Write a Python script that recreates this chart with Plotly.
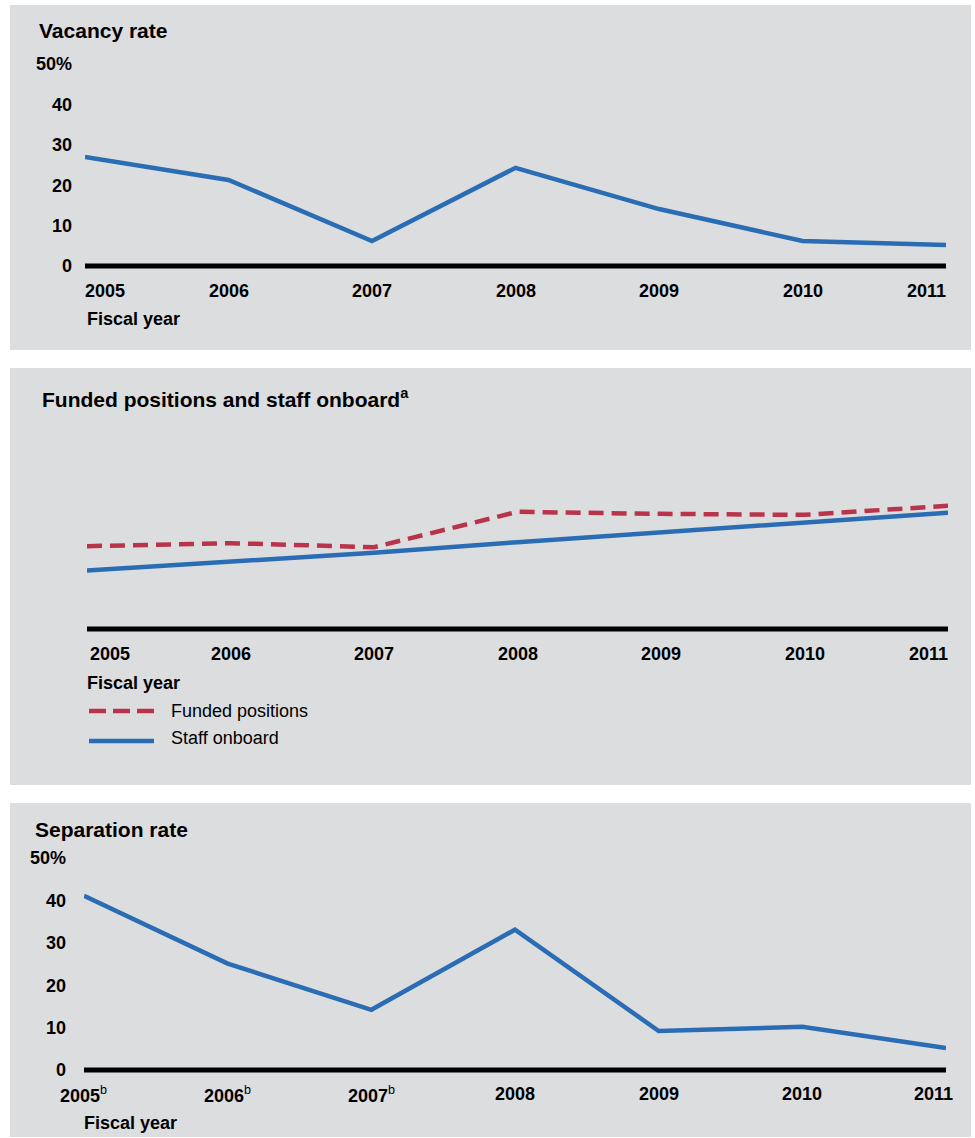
import plotly.graph_objects as go

# ---------------- data ----------------
years = [2005, 2006, 2007, 2008, 2009, 2010, 2011]
year_labels = ["2005", "2006", "2007", "2008", "2009", "2010", "2011"]
separation_year_labels = ["2005<sup><span style='font-weight:normal'>b</span></sup>",
                          "2006<sup><span style='font-weight:normal'>b</span></sup>",
                          "2007<sup><span style='font-weight:normal'>b</span></sup>",
                          "2008", "2009", "2010", "2011"]

vacancy_rate = [27.0, 21.3, 6.2, 24.3, 14.1, 6.2, 5.2]
funded_positions = [82, 85, 81, 116, 114, 113, 122]
staff_onboard = [58, 66.5, 75.5, 86, 96, 106, 115]
separation_rate = [41.1, 25.1, 14.2, 33.1, 9.2, 10.2, 5.2]

rate_ticks = [0, 10, 20, 30, 40, 50]
rate_tick_labels = ["0", "10", "20", "30", "40", "50%"]

# ---------------- styling ----------------
W, H = 975, 1138
FONT = "Liberation Sans, Arial, Helvetica, sans-serif"
GREY = "#dcdddf"
BLUE = "#2a6db5"
RED = "#b9344a"
LW = 4.5


def px(x):
    return x / W


def py(y):
    return 1 - y / H


fig = go.Figure()

fig.add_trace(go.Scatter(x=years, y=vacancy_rate, mode="lines",
                         line=dict(color=BLUE, width=LW), xaxis="x", yaxis="y",
                         name="Vacancy rate", showlegend=False))
fig.add_trace(go.Scatter(x=years, y=funded_positions, mode="lines",
                         line=dict(color=RED, width=LW, dash="15px,8px"),
                         xaxis="x2", yaxis="y2", name="Funded positions", showlegend=False))
fig.add_trace(go.Scatter(x=years, y=staff_onboard, mode="lines",
                         line=dict(color=BLUE, width=LW), xaxis="x2", yaxis="y2",
                         name="Staff onboard", showlegend=False))
fig.add_trace(go.Scatter(x=years, y=separation_rate, mode="lines",
                         line=dict(color=BLUE, width=LW), xaxis="x3", yaxis="y3",
                         name="Separation rate", showlegend=False))

hidden_x = dict(range=[2005, 2011], showgrid=False, zeroline=False, showline=False,
                showticklabels=False, ticks="", fixedrange=True, automargin=False)

rate_y = dict(tickvals=rate_ticks, ticktext=rate_tick_labels,
              tickfont=dict(family=FONT, size=18, color="black", weight="bold"),
              showgrid=False, zeroline=False, showline=False, ticks="", fixedrange=True,
              automargin=False)

# panel 1: 0 at 266px, 50 at 64px ; panel 3: 0 at 1070px, 50 at 858px
# a little room below zero so the thick baseline is not clipped
p1 = (266 - 64) / 50.0
p3 = (1070 - 858) / 50.0
p2 = (629 - 427) / 200.0

fig.update_layout(
    template="none",
    width=W, height=H,
    margin=dict(l=0, r=0, t=0, b=0, pad=0),
    paper_bgcolor="white",
    plot_bgcolor="rgba(0,0,0,0)",
    showlegend=False,
    font=dict(family=FONT, color="black"),
    xaxis=dict(hidden_x, domain=[px(85), px(946)], anchor="y"),
    yaxis=dict(rate_y, range=[-1, 50], domain=[py(266 + p1), py(64)], anchor="x",
               ticklabelstandoff=12),
    xaxis2=dict(hidden_x, domain=[px(87), px(948)], anchor="y2"),
    yaxis2=dict(range=[-4, 200], domain=[py(629 + 4 * p2), py(427)], anchor="x2",
                visible=False, fixedrange=True, automargin=False),
    xaxis3=dict(hidden_x, domain=[px(84), px(946)], anchor="y3"),
    yaxis3=dict(rate_y, range=[-1, 50], domain=[py(1070 + p3), py(858)], anchor="x3",
                ticklabelstandoff=17),
)

shapes = []
# grey panels
for top, bottom in [(5, 350), (368, 785), (803, 1137)]:
    shapes.append(dict(type="rect", xref="paper", yref="paper", x0=px(10), x1=px(971),
                       y0=py(bottom), y1=py(top), fillcolor=GREY, line=dict(width=0),
                       layer="below"))
# baseline (zero) lines
for xr, yr in [("x", "y"), ("x2", "y2"), ("x3", "y3")]:
    shapes.append(dict(type="line", xref=xr, yref=yr, x0=years[0], x1=years[-1], y0=0, y1=0,
                       line=dict(color="black", width=5)))
# legend samples
shapes.append(dict(type="line", xref="paper", yref="paper", x0=px(89), x1=px(154),
                   y0=py(711), y1=py(711), line=dict(color=RED, width=LW, dash="17px,7px")))
shapes.append(dict(type="line", xref="paper", yref="paper", x0=px(89), x1=px(154),
                   y0=py(741), y1=py(741), line=dict(color=BLUE, width=LW)))
fig.update_layout(shapes=shapes)

ann = []


def text(x, y, s, size=18, bold=True, xanchor="left"):
    ann.append(dict(xref="paper", yref="paper", x=px(x), y=py(y), text=s, showarrow=False,
                    xanchor=xanchor, yanchor="middle",
                    font=dict(family=FONT, size=size, color="black",
                              weight="bold" if bold else "normal")))


# titles
text(37, 31, "Vacancy rate", size=21)
text(40, 398, "Funded positions and staff onboard<sup>a</sup>", size=21)
text(33, 829, "Separation rate", size=21)
# axis titles
text(85, 319, "Fiscal year")
text(85, 683, "Fiscal year")
text(82, 1123, "Fiscal year")
# legend texts
text(169, 711, "Funded positions", bold=False)
text(169, 738, "Staff onboard", bold=False)


def year_ticks(xref, ypx, labels, anchors, shifts):
    for yr, lab, a, s in zip(years, labels, anchors, shifts):
        ann.append(dict(xref=xref, yref="paper", x=yr, y=py(ypx), text=lab, showarrow=False,
                        xanchor=a, yanchor="middle", xshift=s,
                        font=dict(family=FONT, size=18, color="black", weight="bold")))


mid = ["center"] * 5
year_ticks("x", 291, year_labels, ["left"] + mid + ["right"], [-2, 0, 0, 0, 0, 0, 2])
year_ticks("x2", 654, year_labels, ["left"] + mid + ["right"], [1, 0, 0, 0, 0, 0, 2])
year_ticks("x3", 1094, separation_year_labels, ["center"] * 6 + ["right"],
           [-1, 0, 0, 0, 0, 0, 9])

fig.update_layout(annotations=ann)

css_fix = (
    "document.documentElement.style.margin='0';"
    "document.body.style.margin='0';document.body.style.padding='0';"
    "document.documentElement.style.overflow='hidden';document.body.style.overflow='hidden';"
)
fig.write_html("out.html", config={"displayModeBar": False}, post_script=css_fix)
